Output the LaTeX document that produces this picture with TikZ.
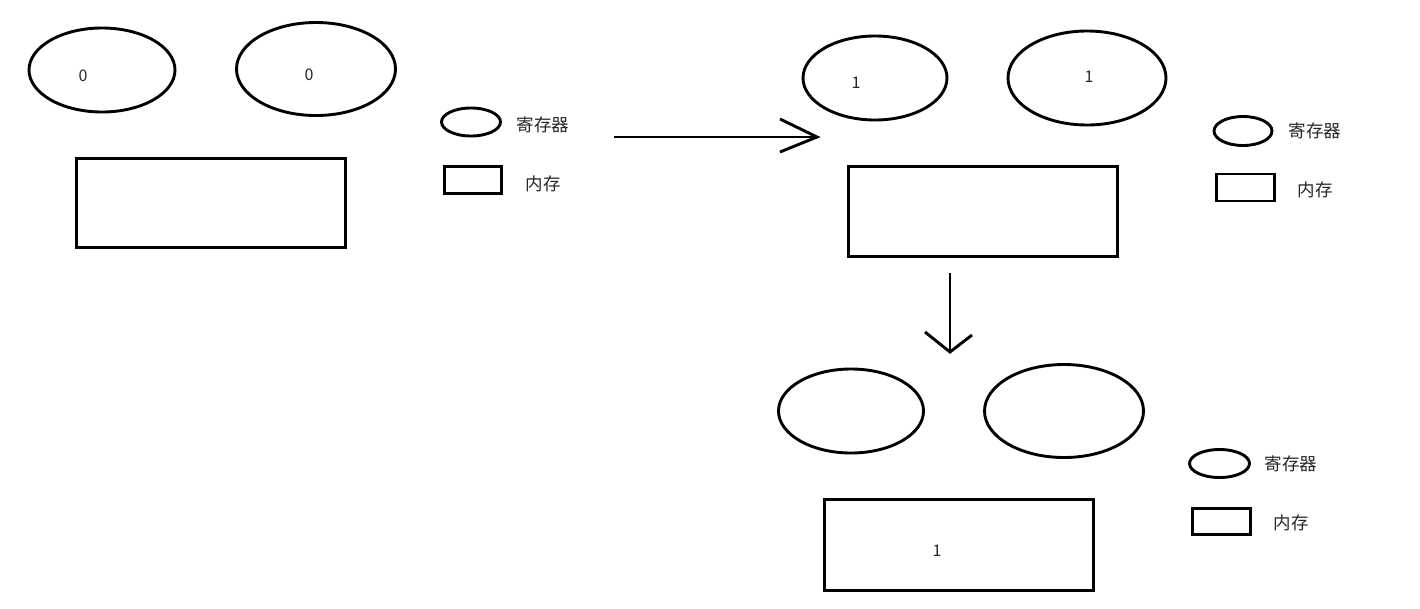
\documentclass[tikz,border=0pt]{standalone}
\usepackage{fontspec}
\setmainfont{Noto Sans CJK SC}
\usetikzlibrary{shapes.geometric}
\begin{document}
\begin{tikzpicture}[x=1pt,y=-1pt,line width=2.9pt,
  reg/.style={draw,ellipse,inner sep=0pt},
  mem/.style={draw,rectangle,inner sep=0pt},
  val/.style={font=\fontsize{16}{16}\selectfont,text=black!85,inner sep=0pt},
  captxt/.style={font=\fontsize{17.5}{17.5}\selectfont,text=black!85,inner sep=0pt},
  conn/.style={line width=2.9pt}]
\useasboundingbox (0,0) rectangle (1420,608);
% group 1
\node[reg,minimum width=146pt,minimum height=84pt] (a1) at (102,70) {};
\node[reg,minimum width=159pt,minimum height=93pt] (a2) at (316,69) {};
\node[val] (a1v) at (83,76) {0};
\node[val] (a2v) at (309,75) {0};
\node[mem,minimum width=269pt,minimum height=89pt] (am) at (211,203) {};
\node[reg,minimum width=59pt,minimum height=28pt] (la1) at (471,122) {};
\node[captxt] (la1t) at (543,125) {寄存器};
\node[mem,minimum width=57pt,minimum height=27pt] (la2) at (473,180) {};
\node[captxt] (la2t) at (543,184) {内存};
% arrow 1
\coordinate (s1) at (614,137);
\coordinate (t1) at (817,137);
\coordinate (h1a) at (780,119);
\coordinate (h1b) at (780,152);
\draw[conn] (s1) -- (t1);
\draw[conn] (h1a) -- (t1) -- (h1b);
% group 2
\node[reg,minimum width=144pt,minimum height=84pt] (b1) at (875,78) {};
\node[reg,minimum width=158pt,minimum height=94pt] (b2) at (1087,78) {};
\node[val] (b1v) at (856,83) {1};
\node[val] (b2v) at (1089,77) {1};
\node[mem,minimum width=269pt,minimum height=90pt] (bm) at (983,211.5) {};
\node[reg,minimum width=58pt,minimum height=29pt] (lb1) at (1243,131) {};
\node[captxt] (lb1t) at (1315,131) {寄存器};
\node[mem,minimum width=58pt,minimum height=27pt] (lb2) at (1245.5,187.5) {};
\node[captxt] (lb2t) at (1315,190) {内存};
% arrow 2
\coordinate (s2) at (950,273);
\coordinate (t2) at (950,352);
\coordinate (h2a) at (925,332);
\coordinate (h2b) at (972,335);
\draw[conn] (s2) -- (t2);
\draw[conn] (h2a) -- (t2) -- (h2b);
% group 3
\node[reg,minimum width=145pt,minimum height=84pt] (c1) at (851,411) {};
\node[reg,minimum width=159pt,minimum height=93pt] (c2) at (1064,411) {};
\node[mem,minimum width=269pt,minimum height=91pt] (cm) at (959,545) {};
\node[val] (cmv) at (937,551) {1};
\node[reg,minimum width=60pt,minimum height=28pt] (lc1) at (1219.5,463.5) {};
\node[captxt] (lc1t) at (1291,464) {寄存器};
\node[mem,minimum width=58pt,minimum height=26pt] (lc2) at (1221.5,521.5) {};
\node[captxt] (lc2t) at (1291,523) {内存};
\end{tikzpicture}
\end{document}
